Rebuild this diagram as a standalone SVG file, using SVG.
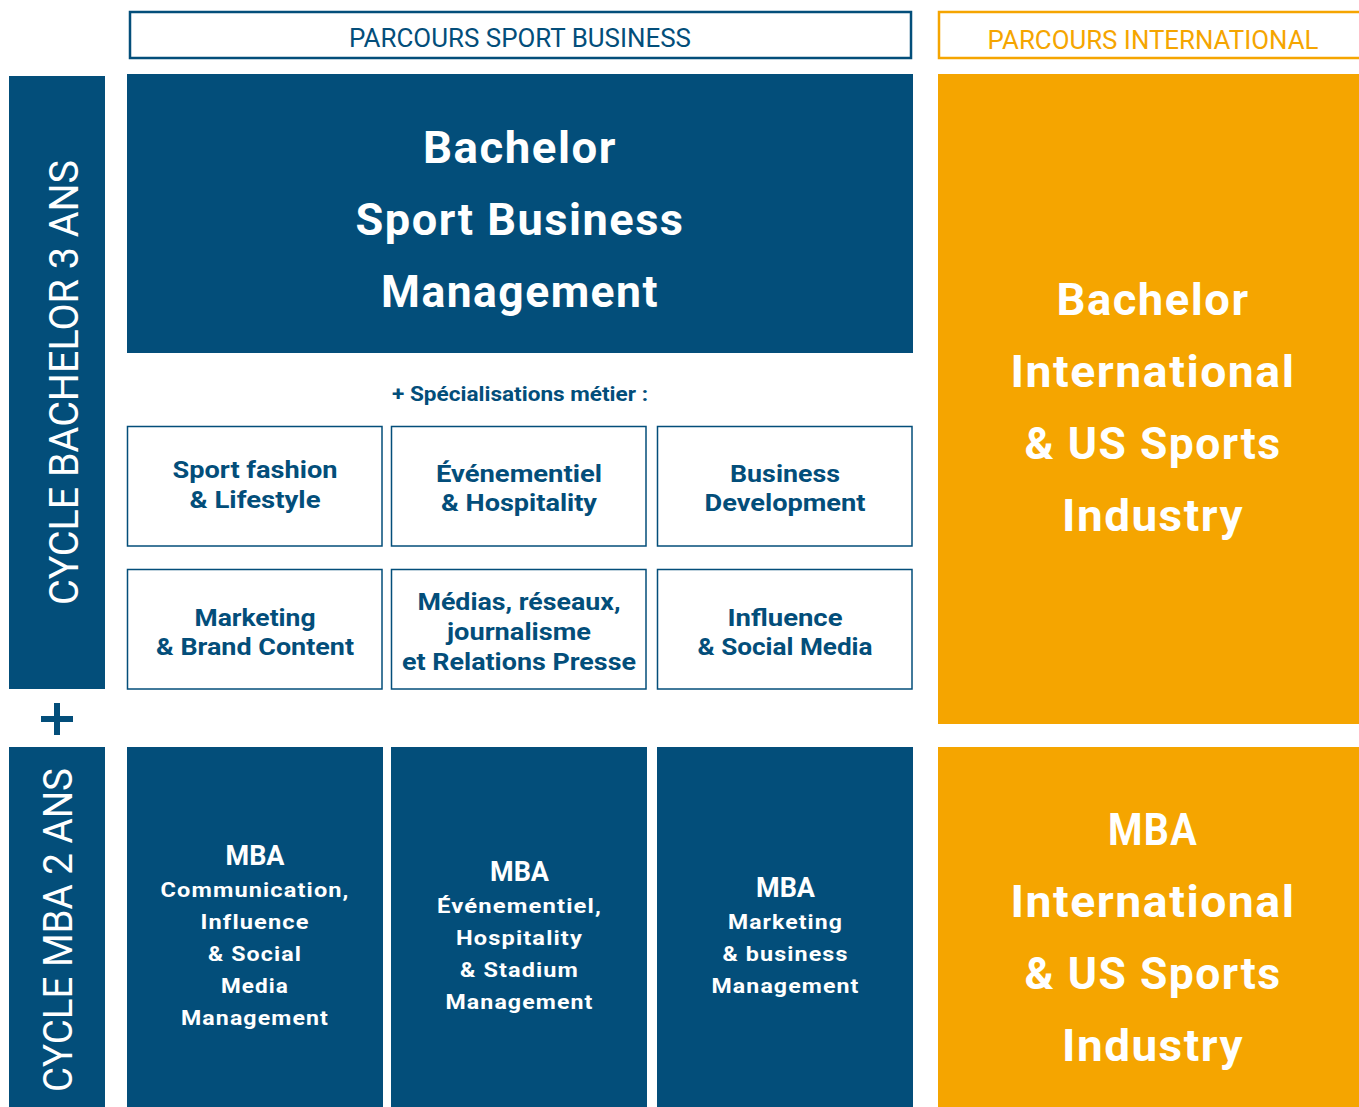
<svg xmlns="http://www.w3.org/2000/svg" width="1359" height="1107" viewBox="0 0 1359 1107">
<style>
text{font-family:Roboto,"Liberation Sans",sans-serif;text-anchor:middle}
.navy{fill:#034e7a}
.orange{fill:#f5a500}
.w{fill:#ffffff;font-weight:700}
.big{font-size:45px;letter-spacing:1.5px}
.mba{font-size:28px}
.mbl{font-size:21px;letter-spacing:1px}
.spec{fill:#ffffff;stroke:#034e7a;stroke-width:1.5}
.st{fill:#034e7a;font-weight:700;font-size:24px}
.hd{font-size:25px}
.side{fill:#ffffff;font-size:40px}
</style>
<g id="header-sport">
<rect x="130" y="12" width="781" height="46" fill="#fff" stroke="#034e7a" stroke-width="2.5"/>
<text x="520" y="47" class="hd" fill="#034e7a" textLength="342" lengthAdjust="spacingAndGlyphs">PARCOURS SPORT BUSINESS</text>
</g>
<g id="header-international">
<rect x="939" y="12" width="425" height="46" fill="#fff" stroke="#f5a500" stroke-width="2.5"/>
<text x="1153" y="49" class="hd" fill="#f5a500" textLength="331" lengthAdjust="spacingAndGlyphs">PARCOURS INTERNATIONAL</text>
</g>
<g id="cycle-bachelor">
<rect x="9" y="76" width="96" height="613" class="navy"/>
<text transform="translate(78,382.5) rotate(-90)" class="side" textLength="445" lengthAdjust="spacingAndGlyphs">CYCLE BACHELOR 3 ANS</text>
</g>
<g id="plus">
<rect x="41" y="716" width="32" height="6" class="navy"/>
<rect x="54" y="703" width="6" height="32" class="navy"/>
</g>
<g id="cycle-mba">
<rect x="9" y="747" width="96" height="360" class="navy"/>
<text transform="translate(72,930) rotate(-90)" class="side" textLength="324" lengthAdjust="spacingAndGlyphs">CYCLE MBA 2 ANS</text>
</g>
<g id="bachelor-sbm">
<rect x="127" y="74" width="786" height="279" class="navy"/>
<text x="520" y="163" class="w big" textLength="194" lengthAdjust="spacingAndGlyphs">Bachelor</text>
<text x="520" y="235" class="w big" textLength="329" lengthAdjust="spacingAndGlyphs">Sport Business</text>
<text x="520" y="307" class="w big" textLength="278" lengthAdjust="spacingAndGlyphs">Management</text>
</g>
<g id="bachelor-international">
<rect x="938" y="74" width="421" height="650" class="orange"/>
<text x="1153" y="315" class="w big" textLength="193" lengthAdjust="spacingAndGlyphs">Bachelor</text>
<text x="1153" y="387" class="w big" textLength="285" lengthAdjust="spacingAndGlyphs">International</text>
<text x="1153" y="459" class="w big" textLength="257" lengthAdjust="spacingAndGlyphs">&amp; US Sports</text>
<text x="1153" y="531" class="w big" textLength="182" lengthAdjust="spacingAndGlyphs">Industry</text>
</g>
<g id="specialisations-label">
<text x="520" y="401" fill="#034e7a" font-weight="700" font-size="20" textLength="256" lengthAdjust="spacingAndGlyphs">+ Spécialisations métier :</text>
</g>
<g id="spec-fashion">
<rect x="127.5" y="426.5" width="254.5" height="119.5" class="spec"/>
<text x="255" y="478" class="st" textLength="165" lengthAdjust="spacingAndGlyphs">Sport fashion</text>
<text x="255" y="508" class="st" textLength="131" lengthAdjust="spacingAndGlyphs">&amp; Lifestyle</text>
</g>
<g id="spec-event">
<rect x="391.5" y="426.5" width="254.5" height="119.5" class="spec"/>
<text x="519" y="482" class="st" textLength="166" lengthAdjust="spacingAndGlyphs">Événementiel</text>
<text x="519" y="511" class="st" textLength="156" lengthAdjust="spacingAndGlyphs">&amp; Hospitality</text>
</g>
<g id="spec-business">
<rect x="657.5" y="426.5" width="254.5" height="119.5" class="spec"/>
<text x="785" y="482" class="st" textLength="110" lengthAdjust="spacingAndGlyphs">Business</text>
<text x="785" y="511" class="st" textLength="161" lengthAdjust="spacingAndGlyphs">Development</text>
</g>
<g id="spec-marketing">
<rect x="127.5" y="569.5" width="254.5" height="119.5" class="spec"/>
<text x="255" y="626" class="st" textLength="121" lengthAdjust="spacingAndGlyphs">Marketing</text>
<text x="255" y="655" class="st" textLength="198" lengthAdjust="spacingAndGlyphs">&amp; Brand Content</text>
</g>
<g id="spec-medias">
<rect x="391.5" y="569.5" width="254.5" height="119.5" class="spec"/>
<text x="519" y="610" class="st" textLength="203" lengthAdjust="spacingAndGlyphs">Médias, réseaux,</text>
<text x="519" y="640" class="st" textLength="144" lengthAdjust="spacingAndGlyphs">journalisme</text>
<text x="519" y="670" class="st" textLength="234" lengthAdjust="spacingAndGlyphs">et Relations Presse</text>
</g>
<g id="spec-influence">
<rect x="657.5" y="569.5" width="254.5" height="119.5" class="spec"/>
<text x="785" y="626" class="st" textLength="115" lengthAdjust="spacingAndGlyphs">Influence</text>
<text x="785" y="655" class="st" textLength="175" lengthAdjust="spacingAndGlyphs">&amp; Social Media</text>
</g>
<g id="mba-communication">
<rect x="127" y="747" width="256" height="360" class="navy"/>
<text x="255" y="865" class="w mba" textLength="59" lengthAdjust="spacingAndGlyphs">MBA</text>
<text x="255" y="897" class="w mbl" textLength="189" lengthAdjust="spacingAndGlyphs">Communication,</text>
<text x="255" y="929" class="w mbl" textLength="109" lengthAdjust="spacingAndGlyphs">Influence</text>
<text x="255" y="961" class="w mbl" textLength="94" lengthAdjust="spacingAndGlyphs">&amp; Social</text>
<text x="255" y="993" class="w mbl" textLength="68" lengthAdjust="spacingAndGlyphs">Media</text>
<text x="255" y="1025" class="w mbl" textLength="148" lengthAdjust="spacingAndGlyphs">Management</text>
</g>
<g id="mba-evenementiel">
<rect x="391" y="747" width="256" height="360" class="navy"/>
<text x="519.5" y="881" class="w mba" textLength="59" lengthAdjust="spacingAndGlyphs">MBA</text>
<text x="519.5" y="913" class="w mbl" textLength="165" lengthAdjust="spacingAndGlyphs">Événementiel,</text>
<text x="519.5" y="945" class="w mbl" textLength="127" lengthAdjust="spacingAndGlyphs">Hospitality</text>
<text x="519.5" y="977" class="w mbl" textLength="119" lengthAdjust="spacingAndGlyphs">&amp; Stadium</text>
<text x="519.5" y="1009" class="w mbl" textLength="148" lengthAdjust="spacingAndGlyphs">Management</text>
</g>
<g id="mba-marketing">
<rect x="657" y="747" width="256" height="360" class="navy"/>
<text x="785.5" y="897" class="w mba" textLength="59" lengthAdjust="spacingAndGlyphs">MBA</text>
<text x="785.5" y="929" class="w mbl" textLength="115" lengthAdjust="spacingAndGlyphs">Marketing</text>
<text x="785.5" y="961" class="w mbl" textLength="126" lengthAdjust="spacingAndGlyphs">&amp; business</text>
<text x="785.5" y="993" class="w mbl" textLength="148" lengthAdjust="spacingAndGlyphs">Management</text>
</g>
<g id="mba-international">
<rect x="938" y="747" width="421" height="360" class="orange"/>
<text x="1153" y="845" class="w big" textLength="90" lengthAdjust="spacingAndGlyphs">MBA</text>
<text x="1153" y="917" class="w big" textLength="285" lengthAdjust="spacingAndGlyphs">International</text>
<text x="1153" y="989" class="w big" textLength="257" lengthAdjust="spacingAndGlyphs">&amp; US Sports</text>
<text x="1153" y="1061" class="w big" textLength="182" lengthAdjust="spacingAndGlyphs">Industry</text>
</g>
<g id="connectors"/>
</svg>
